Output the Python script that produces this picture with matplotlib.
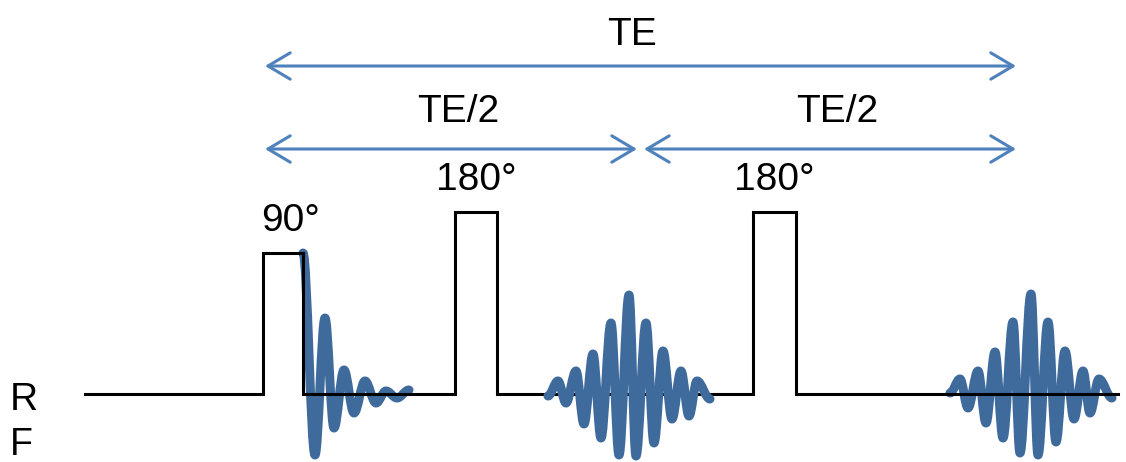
import matplotlib.pyplot as plt
from matplotlib.path import Path
from matplotlib.patches import PathPatch, FancyArrowPatch

plt.rcParams['font.family'] = ['Liberation Sans', 'DejaVu Sans']

# linea base de RF y pulsos (coordenadas en px del diagrama, y hacia abajo)
base_y = 394
rf_start, rf_end = 85, 1118
pulse_x0 = [263, 455, 753]
pulse_x1 = [303, 497, 796]
pulse_top = [253, 212, 212]
pulse_labels = ["90°", "180°", "180°"]

# FID tras el pulso de 90° (extremos de la oscilacion)
fid_x = [303, 315, 325, 334, 344, 354, 365, 376, 386, 397, 409]
fid_y = [253, 455, 318, 428, 370, 413, 381, 403, 391, 398, 390]

# primer eco
eco1_x = [548, 558, 566, 576, 584, 593, 601, 611, 619, 629, 636, 646, 654, 663, 672, 681, 689, 697, 710]
eco1_y = [396, 381, 403, 371, 424, 354, 438, 323, 455, 295, 456, 323, 443, 351, 419, 371, 416, 381, 399]

# segundo eco
eco2_x = [950, 960, 968, 978, 986, 995, 1003, 1013, 1020, 1031, 1038, 1048, 1056, 1065, 1074, 1083, 1090, 1099, 1112]
eco2_y = [393, 379, 408, 371, 423, 352, 438, 322, 453, 294, 455, 322, 442, 351, 419, 371, 413, 379, 398]

# flechas de tiempos
flechas = [(265, 1016, 66, "TE"), (265, 637, 149, "TE/2"), (644, 1016, 149, "TE/2")]

negro = "black"
azul_eco = "#3f6a9c"
azul_flecha = "#4f81bd"


def curva_suave(xs, ys):
    # bezier cubica entre extremos, tangente horizontal en cada uno
    verts = [(xs[0], ys[0])]
    codes = [Path.MOVETO]
    a = 0.36
    for i in range(len(xs) - 1):
        dx = xs[i + 1] - xs[i]
        verts += [(xs[i] + a * dx, ys[i]), (xs[i + 1] - a * dx, ys[i + 1]), (xs[i + 1], ys[i + 1])]
        codes += [Path.CURVE4] * 3
    return Path(verts, codes)


fig = plt.figure(figsize=(11.26, 4.62), dpi=100)
ax = fig.add_axes([0, 0, 1, 1])
ax.set_xlim(0, 1126)
ax.set_ylim(462, 0)
ax.axis("off")

# trazo de RF
xs, ys = [rf_start], [base_y]
for x0, x1, top in zip(pulse_x0, pulse_x1, pulse_top):
    xs += [x0, x0, x1, x1]
    ys += [base_y, top, top, base_y]
xs.append(rf_end)
ys.append(base_y)
ax.plot(xs, ys, color=negro, lw=2.2, solid_joinstyle="miter", zorder=2)

for x0, x1, top, lab in zip(pulse_x0, pulse_x1, pulse_top, pulse_labels):
    ax.text((x0 + x1) / 2 + (8 if lab == "90°" else 0), top - 22, lab, fontsize=28,
            ha="center", va="baseline", color=negro)

# señales
for xs_, ys_, z in [(fid_x, fid_y, 1), (eco1_x, eco1_y, 3), (eco2_x, eco2_y, 1)]:
    ax.add_patch(PathPatch(curva_suave(xs_, ys_), fill=False, edgecolor=azul_eco,
                           lw=6.5, capstyle="round", joinstyle="round", zorder=z))

# flechas TE y TE/2
for xa, xb, y, lab in flechas:
    ax.add_patch(FancyArrowPatch((xa, y), (xb, y),
                                 arrowstyle="<->,head_length=16,head_width=9.5",
                                 color=azul_flecha, lw=2.2, shrinkA=0, shrinkB=0))
    ax.text((xa + xb) / 2 + (-9 if lab == "TE" else 7), y - 21 if lab == "TE" else y - 27,
            lab, fontsize=28, ha="center", va="baseline", color=negro)

ax.text(10, 410, "R", fontsize=28, ha="left", va="baseline", color=negro)
ax.text(10, 455, "F", fontsize=27, ha="left", va="baseline", color=negro)

fig.savefig("out.png", dpi=100)
